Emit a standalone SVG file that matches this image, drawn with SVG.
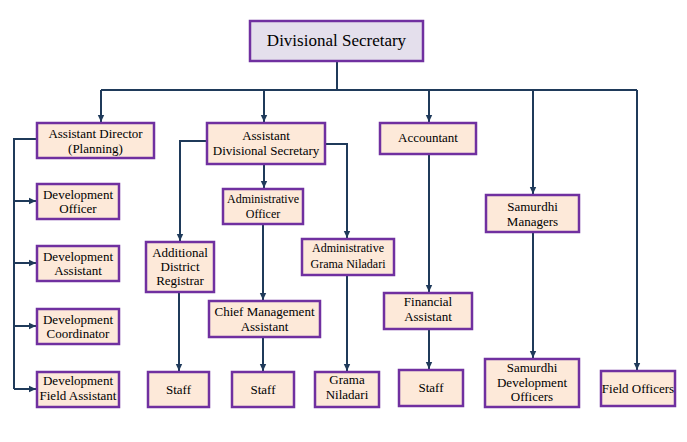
<svg xmlns="http://www.w3.org/2000/svg" width="687" height="442" viewBox="0 0 687 442">
<style>
.box{fill:#fde9d9;stroke:#7030a0;stroke-width:2.5}
.top{fill:#e4dfec;stroke:#7030a0;stroke-width:2.5}
text{font-family:'Liberation Serif','Times New Roman',serif;font-size:13px;fill:#000;text-anchor:middle}
.sm{font-size:12px}
.big{font-size:17px}
.ln{fill:none;stroke:#1f3a5a;stroke-width:2}
</style>
<defs>
<marker id="ar" markerUnits="userSpaceOnUse" markerWidth="8" markerHeight="8" viewBox="0 0 8 8" refX="7" refY="4" orient="auto">
<path d="M0,0.8 L7,4 L0,7.2 Z" fill="#1f3a5a"/>
</marker>
</defs>
<rect width="687" height="442" fill="#fff"/>
<g id="connectors">
<path class="ln" d="M337,61 V90"/>
<path class="ln" d="M101,90 H637"/>
<path class="ln" d="M101,90 V122" marker-end="url(#ar)"/>
<path class="ln" d="M264,90 V122" marker-end="url(#ar)"/>
<path class="ln" d="M429,90 V122" marker-end="url(#ar)"/>
<path class="ln" d="M533,90 V194" marker-end="url(#ar)"/>
<path class="ln" d="M637,90 V370" marker-end="url(#ar)"/>
<path class="ln" d="M37,139 H14 V389"/>
<path class="ln" d="M14,201 H36" marker-end="url(#ar)"/>
<path class="ln" d="M14,263 H36" marker-end="url(#ar)"/>
<path class="ln" d="M14,326 H36" marker-end="url(#ar)"/>
<path class="ln" d="M14,389 H36" marker-end="url(#ar)"/>
<path class="ln" d="M207,141 H180 V241" marker-end="url(#ar)"/>
<path class="ln" d="M325,144 H347 V238" marker-end="url(#ar)"/>
<path class="ln" d="M264,164 V188" marker-end="url(#ar)"/>
<path class="ln" d="M263,224 V300" marker-end="url(#ar)"/>
<path class="ln" d="M263,337 V371" marker-end="url(#ar)"/>
<path class="ln" d="M179,292 V371" marker-end="url(#ar)"/>
<path class="ln" d="M347,275 V371" marker-end="url(#ar)"/>
<path class="ln" d="M429,154 V292" marker-end="url(#ar)"/>
<path class="ln" d="M429,329 V369" marker-end="url(#ar)"/>
<path class="ln" d="M533,232 V358" marker-end="url(#ar)"/>
</g>
<g id="divisional-secretary">
<rect class="top" x="250" y="21" width="173" height="40"/>
<text class="big" x="336.5" y="46">Divisional Secretary</text>
</g>
<g id="assistant-director">
<rect class="box" x="37" y="123" width="117" height="35"/>
<text x="95.5" y="138">Assistant Director</text>
<text x="95.5" y="153">(Planning)</text>
</g>
<g id="development-officer">
<rect class="box" x="37" y="184" width="82" height="35"/>
<text x="78" y="199">Development</text>
<text x="78" y="213">Officer</text>
</g>
<g id="development-assistant">
<rect class="box" x="37" y="246" width="82" height="35"/>
<text x="78" y="261">Development</text>
<text x="78" y="275">Assistant</text>
</g>
<g id="development-coordinator">
<rect class="box" x="37" y="309" width="82" height="35"/>
<text x="78" y="324">Development</text>
<text x="78" y="338">Coordinator</text>
</g>
<g id="development-field-assistant">
<rect class="box" x="37" y="372" width="82" height="35"/>
<text x="78" y="385">Development</text>
<text x="78" y="400">Field Assistant</text>
</g>
<g id="assistant-divisional-secretary">
<rect class="box" x="207" y="123" width="118" height="41"/>
<text x="266" y="140">Assistant</text>
<text x="266" y="155">Divisional Secretary</text>
</g>
<g id="administrative-officer">
<rect class="box" x="223" y="189" width="80" height="35"/>
<text class="sm" x="263" y="203">Administrative</text>
<text class="sm" x="263" y="218">Officer</text>
</g>
<g id="additional-district-registrar">
<rect class="box" x="146" y="242" width="68" height="50"/>
<text x="180" y="257">Additional</text>
<text x="180" y="271">District</text>
<text x="180" y="285">Registrar</text>
</g>
<g id="chief-management-assistant">
<rect class="box" x="209" y="301" width="111" height="36"/>
<text x="264.5" y="316">Chief Management</text>
<text x="264.5" y="331">Assistant</text>
</g>
<g id="administrative-grama-niladari">
<rect class="box" x="302" y="239" width="92" height="36"/>
<text class="sm" x="348" y="252">Administrative</text>
<text class="sm" x="348" y="268">Grama Niladari</text>
</g>
<g id="staff-1">
<rect class="box" x="148" y="372" width="61" height="35"/>
<text x="178.5" y="394">Staff</text>
</g>
<g id="staff-2">
<rect class="box" x="232" y="372" width="62" height="35"/>
<text x="263" y="394">Staff</text>
</g>
<g id="grama-niladari">
<rect class="box" x="315" y="372" width="64" height="35"/>
<text x="347" y="384">Grama</text>
<text x="347" y="399">Niladari</text>
</g>
<g id="accountant">
<rect class="box" x="380" y="123" width="96" height="31"/>
<text x="428" y="142">Accountant</text>
</g>
<g id="financial-assistant">
<rect class="box" x="384" y="293" width="88" height="36"/>
<text x="428" y="306">Financial</text>
<text x="428" y="321">Assistant</text>
</g>
<g id="staff-3">
<rect class="box" x="399" y="370" width="64" height="36"/>
<text x="431" y="392">Staff</text>
</g>
<g id="samurdhi-managers">
<rect class="box" x="486" y="195" width="93" height="37"/>
<text x="532.5" y="211">Samurdhi</text>
<text x="532.5" y="226">Managers</text>
</g>
<g id="samurdhi-development-officers">
<rect class="box" x="485" y="359" width="94" height="48"/>
<text x="532" y="372">Samurdhi</text>
<text x="532" y="387">Development</text>
<text x="532" y="401">Officers</text>
</g>
<g id="field-officers">
<rect class="box" x="601" y="371" width="74" height="35"/>
<text x="638" y="393">Field Officers</text>
</g>
</svg>
